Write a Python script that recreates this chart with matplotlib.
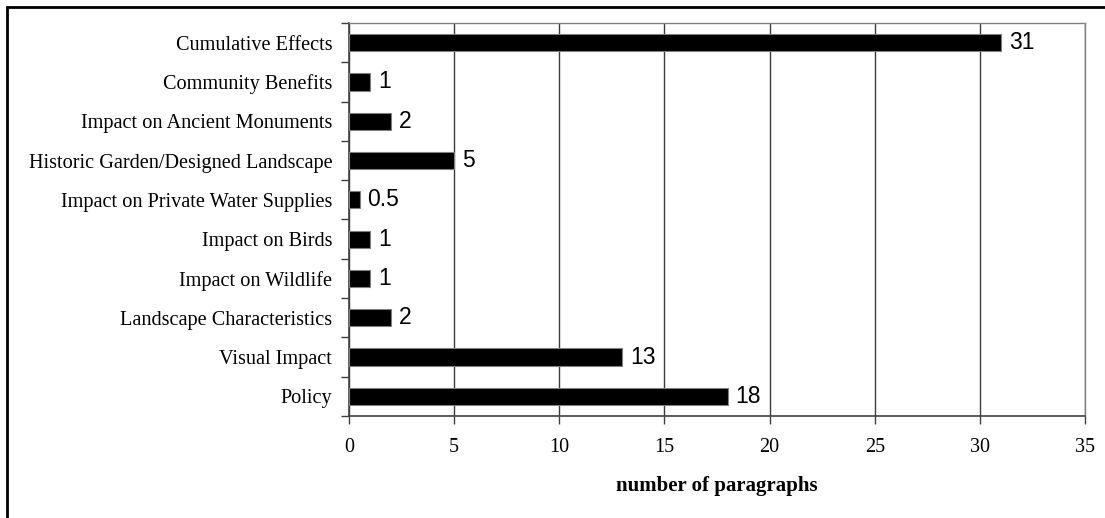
import matplotlib
matplotlib.use("Agg")
import matplotlib.pyplot as plt
from matplotlib.patches import Rectangle
import numpy as np

categories = [
    "Cumulative Effects",
    "Community Benefits",
    "Impact on Ancient Monuments",
    "Historic Garden/Designed Landscape",
    "Impact on Private Water Supplies",
    "Impact on Birds",
    "Impact on Wildlife",
    "Landscape Characteristics",
    "Visual Impact",
    "Policy",
]
values = [31, 1, 2, 5, 0.5, 1, 1, 2, 13, 18]
value_labels = ["31", "1", "2", "5", "0.5", "1", "1", "2", "13", "18"]
x_ticks = [0, 5, 10, 15, 20, 25, 30, 35]
x_label = "number of paragraphs"

W, H = 1105, 518
fig = plt.figure(figsize=(W / 100, H / 100), dpi=100)

# outer frame around the chart area
fig.patches.append(Rectangle((7 / W, -0.1), 1.2, (H - 7) / H + 0.1,
                             transform=fig.transFigure, fill=False,
                             edgecolor="black", linewidth=2.0, zorder=0))

left, right, top, bottom = 349, 1085, 23, 416
ax = fig.add_axes([left / W, 1 - bottom / H, (right - left) / W, (bottom - top) / H])

n = len(categories)
ypos = np.arange(n)[::-1]
ax.barh(ypos, values, height=0.44, color="black", edgecolor="#808080",
        linewidth=0.8, zorder=3)

for y, v, lab in zip(ypos, values, value_labels):
    ax.text(v + 0.38, y, lab, va="center", ha="left",
            fontfamily="Liberation Sans", fontsize=16.5, color="black")

ax.set_xlim(0, 35)
ax.set_ylim(-0.5, n - 0.5)
ax.set_xticks(x_ticks)
ax.set_xticklabels([str(t) for t in x_ticks], fontfamily="Liberation Serif",
                   fontsize=14.5)
ax.xaxis.grid(True, color="#3c3c3c", linewidth=1.0, zorder=1)
ax.set_axisbelow(True)

# category labels centred on bars, tick marks on band boundaries
ax.set_yticks(ypos)
ax.set_yticklabels(categories, fontfamily="Liberation Serif", fontsize=14.6)
ax.tick_params(axis="y", which="major", length=0, pad=12)
ax.set_yticks(np.arange(-0.5, n, 1.0), minor=True)
ax.tick_params(axis="y", which="minor", length=6, width=1.0, color="#404040",
               direction="out")
ax.tick_params(axis="x", length=6, width=1.0, color="#404040",
               direction="out", pad=9.5)

for side in ("left", "bottom"):
    ax.spines[side].set_color("#404040")
    ax.spines[side].set_linewidth(1.2)
for side in ("top", "right"):
    ax.spines[side].set_color("#808080")
    ax.spines[side].set_linewidth(1.0)

ax.set_xlabel(x_label, fontfamily="Liberation Serif", fontweight="bold",
              fontsize=15, labelpad=14)

fig.savefig("out.png", dpi=100)
